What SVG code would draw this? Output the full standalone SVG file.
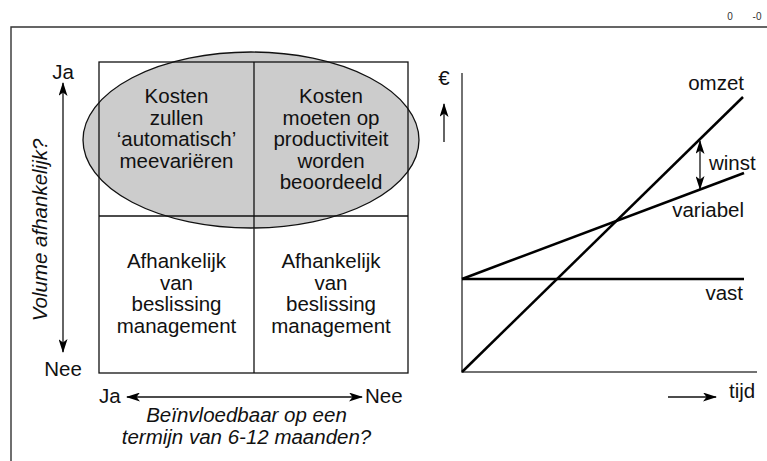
<svg xmlns="http://www.w3.org/2000/svg" width="767" height="461" viewBox="0 0 767 461">
<style>
text{font-family:"Liberation Sans",Arial,sans-serif;font-size:20.5px;fill:#111}
.c{text-anchor:middle}
.e{text-anchor:end}
.i{font-style:italic}
.thin{stroke:#111;stroke-width:1.3;fill:none}
.axis{stroke:#444;stroke-width:1.5;fill:none}
.data{stroke:#000;stroke-width:2.5;fill:none}
.arr{stroke:#111;stroke-width:1.3;fill:none}
.small{font-size:10px;fill:#333}
</style>
<defs>
<marker id="ah" viewBox="0 0 14 9" refX="13" refY="4.5" markerWidth="14" markerHeight="9" markerUnits="userSpaceOnUse" orient="auto-start-reverse">
<path d="M0,0 L14,4.5 L0,9 L3.5,4.5 Z" fill="#000"/>
</marker>
</defs>
<rect width="767" height="461" fill="#fff"/>
<g id="frame">
<path d="M11,461 V27 H767" stroke="#333" stroke-width="1.4" fill="none"/>
<text class="small c" x="730" y="20">0</text>
<text class="small c" x="757" y="20">-0</text>
</g>
<g id="ellipse">
<ellipse cx="251" cy="140" rx="168" ry="88" fill="#cccccc" stroke="#111" stroke-width="1.3"/>
</g>
<g id="matrix">
<rect x="99" y="62" width="309" height="311" class="thin"/>
<line x1="254" y1="62" x2="254" y2="373" class="thin"/>
<line x1="99" y1="216" x2="408" y2="216" class="thin"/>
</g>
<g id="cell-top-left">
<text class="c" x="176.5" y="103">Kosten</text>
<text class="c" x="176.5" y="124.5">zullen</text>
<text class="c" x="176.5" y="146">‘automatisch’</text>
<text class="c" x="176.5" y="167.5">meevariëren</text>
</g>
<g id="cell-top-right">
<text class="c" x="331" y="103">Kosten</text>
<text class="c" x="331" y="124.5">moeten op</text>
<text class="c" x="331" y="146">productiviteit</text>
<text class="c" x="331" y="167.5">worden</text>
<text class="c" x="331" y="189">beoordeeld</text>
</g>
<g id="cell-bottom-left">
<text class="c" x="176.5" y="268">Afhankelijk</text>
<text class="c" x="176.5" y="289.5">van</text>
<text class="c" x="176.5" y="311">beslissing</text>
<text class="c" x="176.5" y="332.5">management</text>
</g>
<g id="cell-bottom-right">
<text class="c" x="331" y="268">Afhankelijk</text>
<text class="c" x="331" y="289.5">van</text>
<text class="c" x="331" y="311">beslissing</text>
<text class="c" x="331" y="332.5">management</text>
</g>
<g id="axis-labels">
<text class="c" x="63" y="79">Ja</text>
<text class="c" x="63" y="376">Nee</text>
<text class="c i" transform="translate(47,230) rotate(-90)">Volume afhankelijk?</text>
<text x="99" y="403">Ja</text>
<text x="365" y="403">Nee</text>
<text class="c i" x="246.5" y="422">Beïnvloedbaar op een</text>
<text class="c i" x="246.5" y="444">termijn van 6-12 maanden?</text>
</g>
<g id="graph-labels">
<text class="c" x="444" y="85">€</text>
<text class="e" x="744" y="90">omzet</text>
<text x="709" y="170">winst</text>
<text class="e" x="744" y="217">variabel</text>
<text class="e" x="743" y="300">vast</text>
<text x="729" y="398">tijd</text>
</g>
<g id="graph-axes">
<path d="M462,73 V372 H757" class="axis"/>
</g>
<g id="graph-lines">
<line x1="462" y1="279" x2="744" y2="279" class="data"/>
<line x1="462" y1="279" x2="744" y2="173" class="data"/>
<line x1="462" y1="372" x2="743" y2="97" class="data"/>
</g>
<g id="connectors">
<line x1="63" y1="83" x2="63" y2="352" class="arr" marker-start="url(#ah)" marker-end="url(#ah)"/>
<line x1="127" y1="397" x2="362" y2="397" class="arr" marker-start="url(#ah)" marker-end="url(#ah)"/>
<line x1="444" y1="142" x2="444" y2="104" class="arr" marker-end="url(#ah)"/>
<line x1="668" y1="397" x2="716" y2="397" class="arr" marker-end="url(#ah)"/>
<line x1="700" y1="141" x2="700" y2="189" class="arr" marker-start="url(#ah)" marker-end="url(#ah)"/>
</g>
</svg>
